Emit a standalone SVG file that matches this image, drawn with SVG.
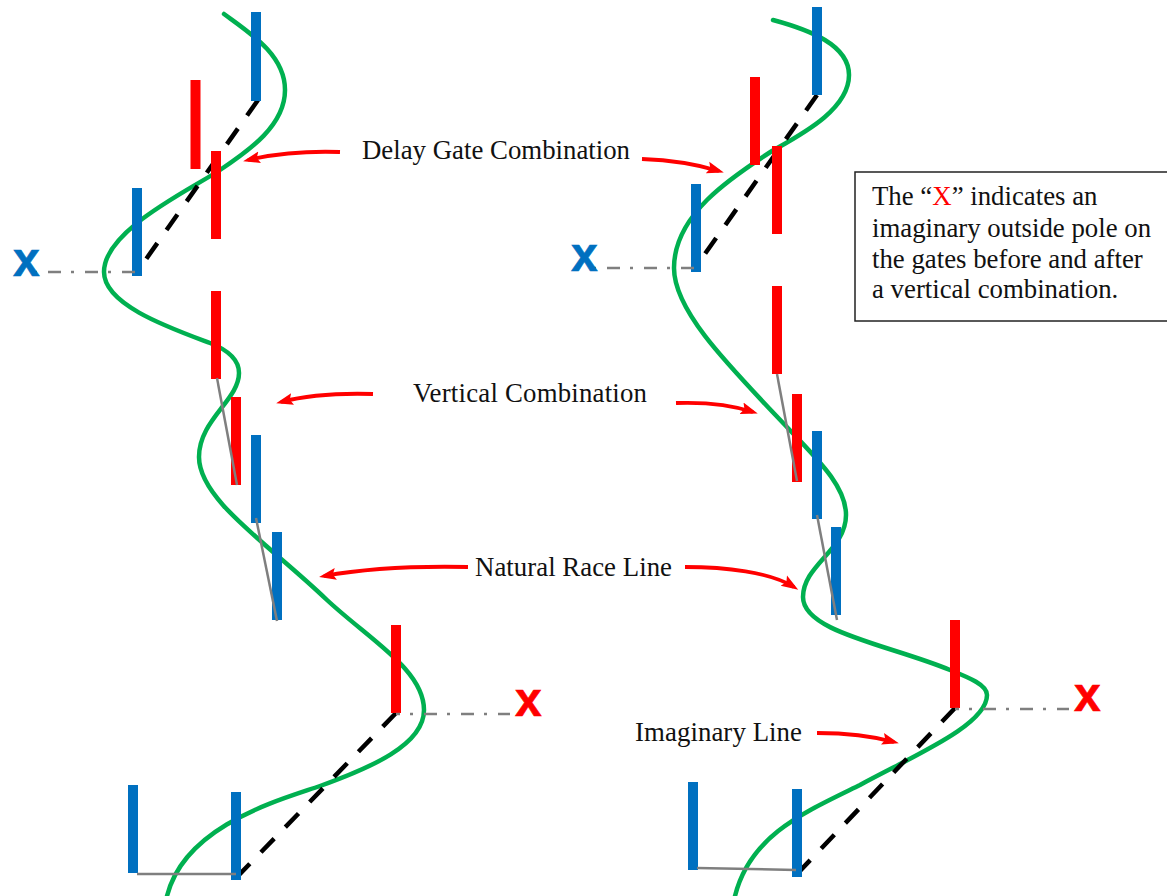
<svg xmlns="http://www.w3.org/2000/svg" width="1167" height="896" viewBox="0 0 1167 896">
<defs>
<marker id="ah" markerWidth="18" markerHeight="14" refX="12" refY="6.5" orient="auto" markerUnits="userSpaceOnUse"><path d="M0 0.5L17 6.5L0 12.5L3 6.5Z" fill="#f00"/></marker>
</defs>
<style>
.b{fill:#0070c0}.r{fill:#f00}
.g{fill:none;stroke:#00b050;stroke-width:4.5;stroke-linecap:round}
.k{fill:none;stroke:#000;stroke-width:4.5;stroke-dasharray:19 16}
.gr{fill:none;stroke:#7f7f7f;stroke-width:2.5}
.dd{fill:none;stroke:#7f7f7f;stroke-width:2.5;stroke-dasharray:13 10 3 11}
.a{fill:none;stroke:#f00;stroke-width:3.8;marker-end:url(#ah)}
text{font-family:"Liberation Serif","Times New Roman",serif;font-size:26.8px;fill:#111}
.x{font-family:"Liberation Sans",Arial,sans-serif;font-weight:bold;font-size:48px;stroke-width:.6}
</style>
<rect width="1167" height="896" fill="#fff"/>
<g id="connectors">
<path class="g" d="M224 14C250 33 285 55 285 90C285 125 250 150 220 170C190 190 104 230 104 272C104 305 170 328 210 343C228 350 239 360 239 373C239 400 199 420 199 457C199 500 270 545 327 600C370 640 424 670 424 710C424 745 370 768 320 786C280 800 185 825 167 896"/>
<path class="g" d="M773 20C810 30 849 45 849 75C849 110 800 135 772 151C730 178 674 215 674 268C674 310 725 362 785 425C815 457 846 485 846 515C846 550 803 565 803 597C803 632 890 645 950 670C970 678 987 685 987 695C987 725 915 755 860 785C805 812 750 835 735 896"/>
<path class="k" d="M258 100L137 272"/><path class="k" d="M817 95L695 268"/>
<path class="k" d="M396 713L236 878"/><path class="k" d="M955 708L796 875"/>
<path class="a" d="M340 152C310 151 278 153 248 160"/>
<path class="a" d="M642 159C670 160 696 164 719 171"/>
<path class="a" d="M373 394C340 393 308 395 281 402"/>
<path class="a" d="M676 403C705 402 732 405 753 412"/>
<path class="a" d="M468 567C420 566 368 568 324 576"/>
<path class="a" d="M685 567C725 567 770 572 794 587"/>
<path class="a" d="M817 733C845 733 872 736 894 742"/>
</g>
<g id="bars">
<rect class="b" x="251" y="12" width="10" height="89"/><rect class="r" x="190.500" y="80" width="10" height="89"/><rect class="r" x="211" y="151" width="10" height="88"/><rect class="b" x="132" y="188" width="10" height="88"/>
<rect class="r" x="211" y="291" width="10" height="88"/><rect class="r" x="231" y="397" width="10" height="88"/><rect class="b" x="251" y="435" width="10" height="88"/><rect class="b" x="272" y="532" width="10" height="88"/>
<rect class="r" x="391" y="625" width="10" height="88"/><rect class="b" x="128" y="785" width="10" height="88"/><rect class="b" x="231" y="792" width="10" height="88"/>
<rect class="b" x="812" y="7" width="10" height="88"/><rect class="r" x="750" y="77" width="10" height="88"/><rect class="r" x="772" y="146" width="10" height="88"/><rect class="b" x="691" y="184" width="10" height="88"/>
<rect class="r" x="772" y="286" width="10" height="88"/><rect class="r" x="792" y="394" width="10" height="88"/><rect class="b" x="812" y="431" width="10" height="88"/><rect class="b" x="831" y="527" width="10" height="88"/>
<rect class="r" x="950" y="620" width="10" height="88"/><rect class="b" x="688" y="782" width="10" height="88"/><rect class="b" x="792" y="789" width="10" height="88"/>
</g>
<g id="guides">
<path class="gr" d="M217 378L237 485"/><path class="gr" d="M256 518L277 621"/>
<path class="gr" d="M777 374L797 481"/><path class="gr" d="M817 515L837 620"/>
<path class="gr" d="M137 874L236 874"/><path class="gr" d="M697 868L796 870"/>
<path class="dd" stroke-dashoffset="23" d="M34 272L136 272"/><path class="dd" stroke-dashoffset="23" d="M593 268L695 268"/>
<path class="dd" stroke-dashoffset="9" d="M396 714L510 714"/><path class="dd" stroke-dashoffset="9" d="M955 709L1069 709"/>
</g>
<g id="labels">
<text x="362" y="159" textLength="268">Delay Gate Combination</text>
<text x="413" y="402" textLength="234">Vertical Combination</text>
<text x="475" y="576" textLength="197">Natural Race Line</text>
<text x="635" y="741" textLength="167">Imaginary Line</text>
<text class="x" x="13" y="275.500" style="fill:#0070c0;stroke:#0070c0">x</text>
<text class="x" x="571" y="271" style="fill:#0070c0;stroke:#0070c0">x</text>
<text class="x" x="515" y="716" style="fill:#f00;stroke:#f00">x</text>
<text class="x" x="1074" y="711" style="fill:#f00;stroke:#f00">x</text>
</g>
<g id="note">
<rect x="855" y="172" width="320" height="149" fill="#fff" stroke="#222" stroke-width="1.5"/>
<text x="872" y="205">The “<tspan fill="#f00">X</tspan>” indicates an</text>
<text x="872" y="237">imaginary outside pole on</text>
<text x="872" y="268">the gates before and after</text>
<text x="872" y="298">a vertical combination.</text>
</g>
</svg>
